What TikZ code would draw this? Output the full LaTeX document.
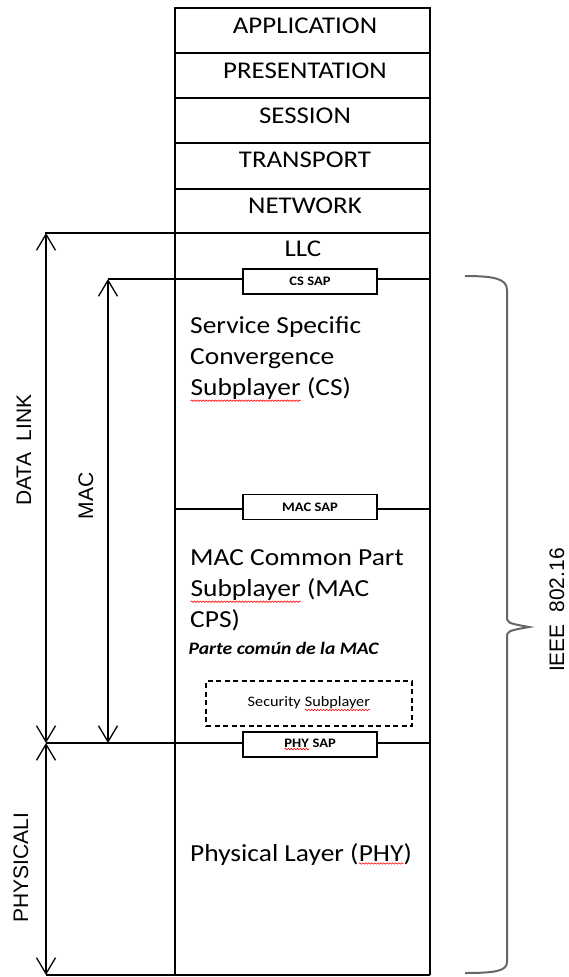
\documentclass[tikz,border=0pt]{standalone}
\usepackage{fontspec}
\setmainfont{Carlito}[FakeStretch=1.12]
\newfontfamily\arialf{Liberation Sans}
\usetikzlibrary{arrows.meta,decorations.pathmorphing}
\newcommand\sqw[1]{\tikz[baseline=(sqwn.base),x=1cm,y=1cm]{\node[shape=rectangle,draw=none,fill=none,solid,inner sep=0pt,outer sep=0pt,minimum width=0pt,minimum height=0pt,anchor=center](sqwn){#1};\draw[red,solid,line width=0.6pt,decorate,decoration={snake,amplitude=0.7pt,segment length=3pt}]([yshift=-1.5pt]sqwn.south west)--([yshift=-1.5pt]sqwn.south east);}}
\begin{document}
\begin{tikzpicture}[x=1pt,y=-1pt,line width=1.3pt,
  lay/.style={inner sep=0pt,font=\fontsize{24}{29}\selectfont},
  body/.style={inner sep=0pt,anchor=west,align=left,font=\fontsize{24.5}{31}\selectfont},
  sap/.style={draw,fill=white,minimum width=134pt,minimum height=25pt,inner sep=0pt,font=\fontsize{13}{15}\selectfont\bfseries},
  side/.style={inner sep=0pt,rotate=90,font=\arialf\fontsize{21}{25}\selectfont},
  dim/.style={{Straight Barb[length=16pt,width=19pt,line width=1.3pt]}-{Straight Barb[length=16pt,width=19pt,line width=1.3pt]}}]
\useasboundingbox (0,0) rectangle (568,977);
% OSI upper layers
\draw (175,8) rectangle (430,233);
\draw (175,53) -- (430,53);
\draw (175,98) -- (430,98);
\draw (175,143) -- (430,143);
\draw (175,189) -- (430,189);
\node[lay] (app) at (305,26) {APPLICATION};
\node[lay] (pres) at (305,71) {PRESENTATION};
\node[lay] (sess) at (305,116) {SESSION};
\node[lay] (trans) at (305,160) {TRANSPORT};
\node[lay] (net) at (305,206) {NETWORK};
% lower column
\draw (175,233) -- (175,975);
\draw (430,233) -- (430,975);
\draw (45,233) -- (175,233);
\node[lay] (llc) at (303,249) {LLC};
% SAP lines and boxes
\node[sap] (cssap) at (310,281.5) {CS SAP};
\node[sap] (macsap) at (310,507) {MAC SAP};
\node[sap] (physap) at (310,744.5) {\sqw{PHY} SAP};
\coordinate (macT) at (108,279);
\coordinate (macB) at (108,743);
\coordinate (dlT) at (46,233);
\coordinate (dlB) at (46,743);
\coordinate (phT) at (46,743);
\coordinate (phB) at (46,975);
\draw (macT) -- (cssap.west |- macT);
\draw (cssap.east |- macT) -- (430,279);
\draw (175,509) -- (macsap.west |- 0,509);
\draw (macsap.east |- 0,509) -- (430,509);
\draw (dlB) -- (physap.west |- dlB);
\draw (physap.east |- dlB) -- (430,743);
\draw (phB) -- (430,975);
% texts inside
\node[body] (cs) at (190,359) {Service Specific\\Convergence\\\sqw{Subplayer} (CS)};
\node[body] (cps) at (190,590) {MAC Common Part\\\sqw{Subplayer} (MAC\\CPS)};
\node[inner sep=0pt,anchor=west,font=\fontsize{17.5}{20}\selectfont\bfseries\itshape] (parte) at (188,648) {Parte común de la MAC};
\node[draw,dash pattern=on 5pt off 3.5pt,minimum width=206pt,minimum height=45pt,inner sep=0pt,font=\fontsize{14.5}{17}\selectfont] (sec) at (309,703.5) {Security \sqw{Subplayer}};
\node[body] (phy) at (190,855) {Physical Layer (\sqw{PHY})};
% dimension arrows
\draw[dim] (dlT) -- (dlB);
\draw[dim] (phT) -- (phB);
\draw[dim] (macT) -- (macB);
\node[side] (dl) at (24,450) {DATA\ \ LINK};
\node[side] (mac) at (86,496) {MAC};
\node[side] (phys) at (21,868) {PHYSICALI};
% brace
\draw[line width=2pt,black!60] (465,276) .. controls (495,276) and (507,279) .. (507,290) -- (507,616) .. controls (507,623) .. (529,627) .. controls (507,631) .. (507,638) -- (507,962) .. controls (507,971) and (495,973) .. (465,973);
\node[side] (ieee) at (557,610) {IEEE\ \ 802.16};
\end{tikzpicture}
\end{document}
